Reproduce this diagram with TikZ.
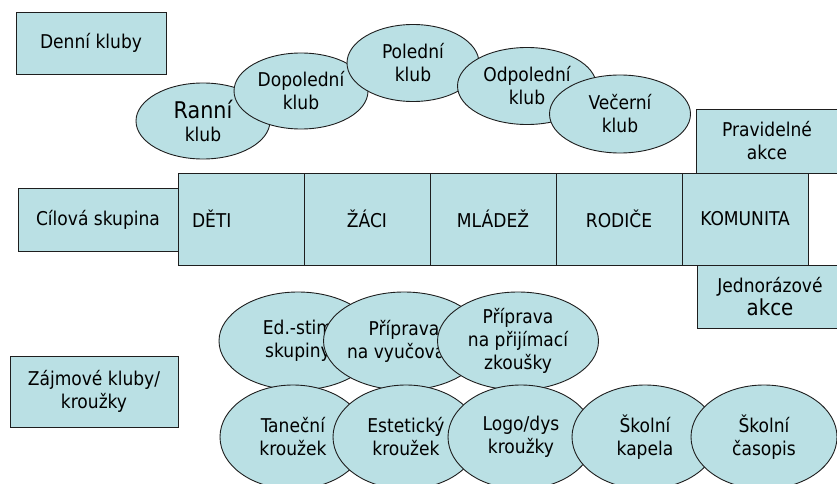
\documentclass[tikz,border=0pt]{standalone}
\usepackage{fontspec}
\setmainfont{DejaVu Sans Condensed}
\usepackage{tikz}
\usetikzlibrary{shapes,positioning}
\usepackage{xcolor}
\definecolor{klubfill}{RGB}{186,224,228}
\definecolor{klubline}{RGB}{30,30,30}
\tikzstyle{labelbox} = [rectangle, draw=klubline, fill=klubfill, line width=0.9pt, inner sep=0pt, align=center, font=\fontsize{19}{23}\selectfont]
\tikzstyle{cell} = [labelbox, minimum width=126pt, minimum height=92pt]
\tikzstyle{klub} = [ellipse, draw=klubline, fill=klubfill, line width=0.9pt, inner sep=0pt, align=center, font=\fontsize{19}{23}\selectfont]

\begin{document}
\begin{tikzpicture}[x=1pt,y=-1pt]
\useasboundingbox (0,0) rectangle (837,484);
\clip (0,0) rectangle (837,484);

% Left labels
\node[labelbox, minimum width=150pt, minimum height=62pt] (denni) at (91,43) {Denní kluby};
\node[labelbox, minimum width=160pt, minimum height=63pt] (cilova) at (98,219.5) {Cílová skupina};
\node[labelbox, minimum width=168pt, minimum height=71pt] (zajmove) at (94,391.5) {Zájmové kluby/\\kroužky};

% Day clubs
\node[klub, minimum width=134pt, minimum height=76pt] (ranni) at (203,121) {{\fontsize{23}{22}\selectfont Ranní}\\klub};
\node[klub, minimum width=134pt, minimum height=76pt] (dopoledni) at (301,91) {Dopolední\\klub};
\node[klub, minimum width=132pt, minimum height=77pt] (poledni) at (413,63) {Polední\\klub};
\node[klub, minimum width=139pt, minimum height=77pt] (odpoledni) at (527,86) {Odpolední\\klub};
\node[klub, minimum width=141pt, minimum height=78pt] (vecerni) at (620,114) {Večerní\\klub};

% Actions
\node[labelbox, minimum width=142pt, minimum height=64pt] (pravidelne) at (767,141) {Pravidelné\\akce};
\node[labelbox, minimum width=146pt, minimum height=63pt] (jednorazove) at (770,296.5) {Jednorázové\\{\fontsize{22}{21}\selectfont akce}};

% Target groups
\node[cell, text width=98pt, align=left] (deti) at (241,219) {DĚTI};
\node[cell] (zaci) at (367,219) {ŽÁCI};
\node[cell] (mladez) at (493,219) {MLÁDEŽ};
\node[cell] (rodice) at (619,219) {RODIČE};
\node[cell] (komunita) at (745,219) {KOMUNITA};

% Interest clubs
\node[klub, minimum width=158pt, minimum height=98pt] (edstim) at (298,341) {Ed.-stim\\skupiny};
\node[klub, minimum width=158pt, minimum height=98pt] (vyucovani) at (404,341) {Příprava\\na vyučování};
\node[klub, minimum width=161pt, minimum height=98pt] (prijimaci) at (518,341) {Příprava\\na přijímací\\zkoušky};
\node[klub, minimum width=146pt, minimum height=104pt] (tanecni) at (293,437) {Taneční\\kroužek};
\node[klub, minimum width=146pt, minimum height=104pt] (esteticky) at (406,437) {Estetický\\kroužek};
\node[klub, minimum width=146pt, minimum height=104pt] (logodys) at (521,437) {Logo/dys\\kroužky};
\node[klub, minimum width=146pt, minimum height=104pt] (kapela) at (645,437) {Školní\\kapela};
\node[klub, minimum width=146pt, minimum height=104pt] (casopis) at (764,437) {Školní\\časopis};
\end{tikzpicture}
\end{document}
